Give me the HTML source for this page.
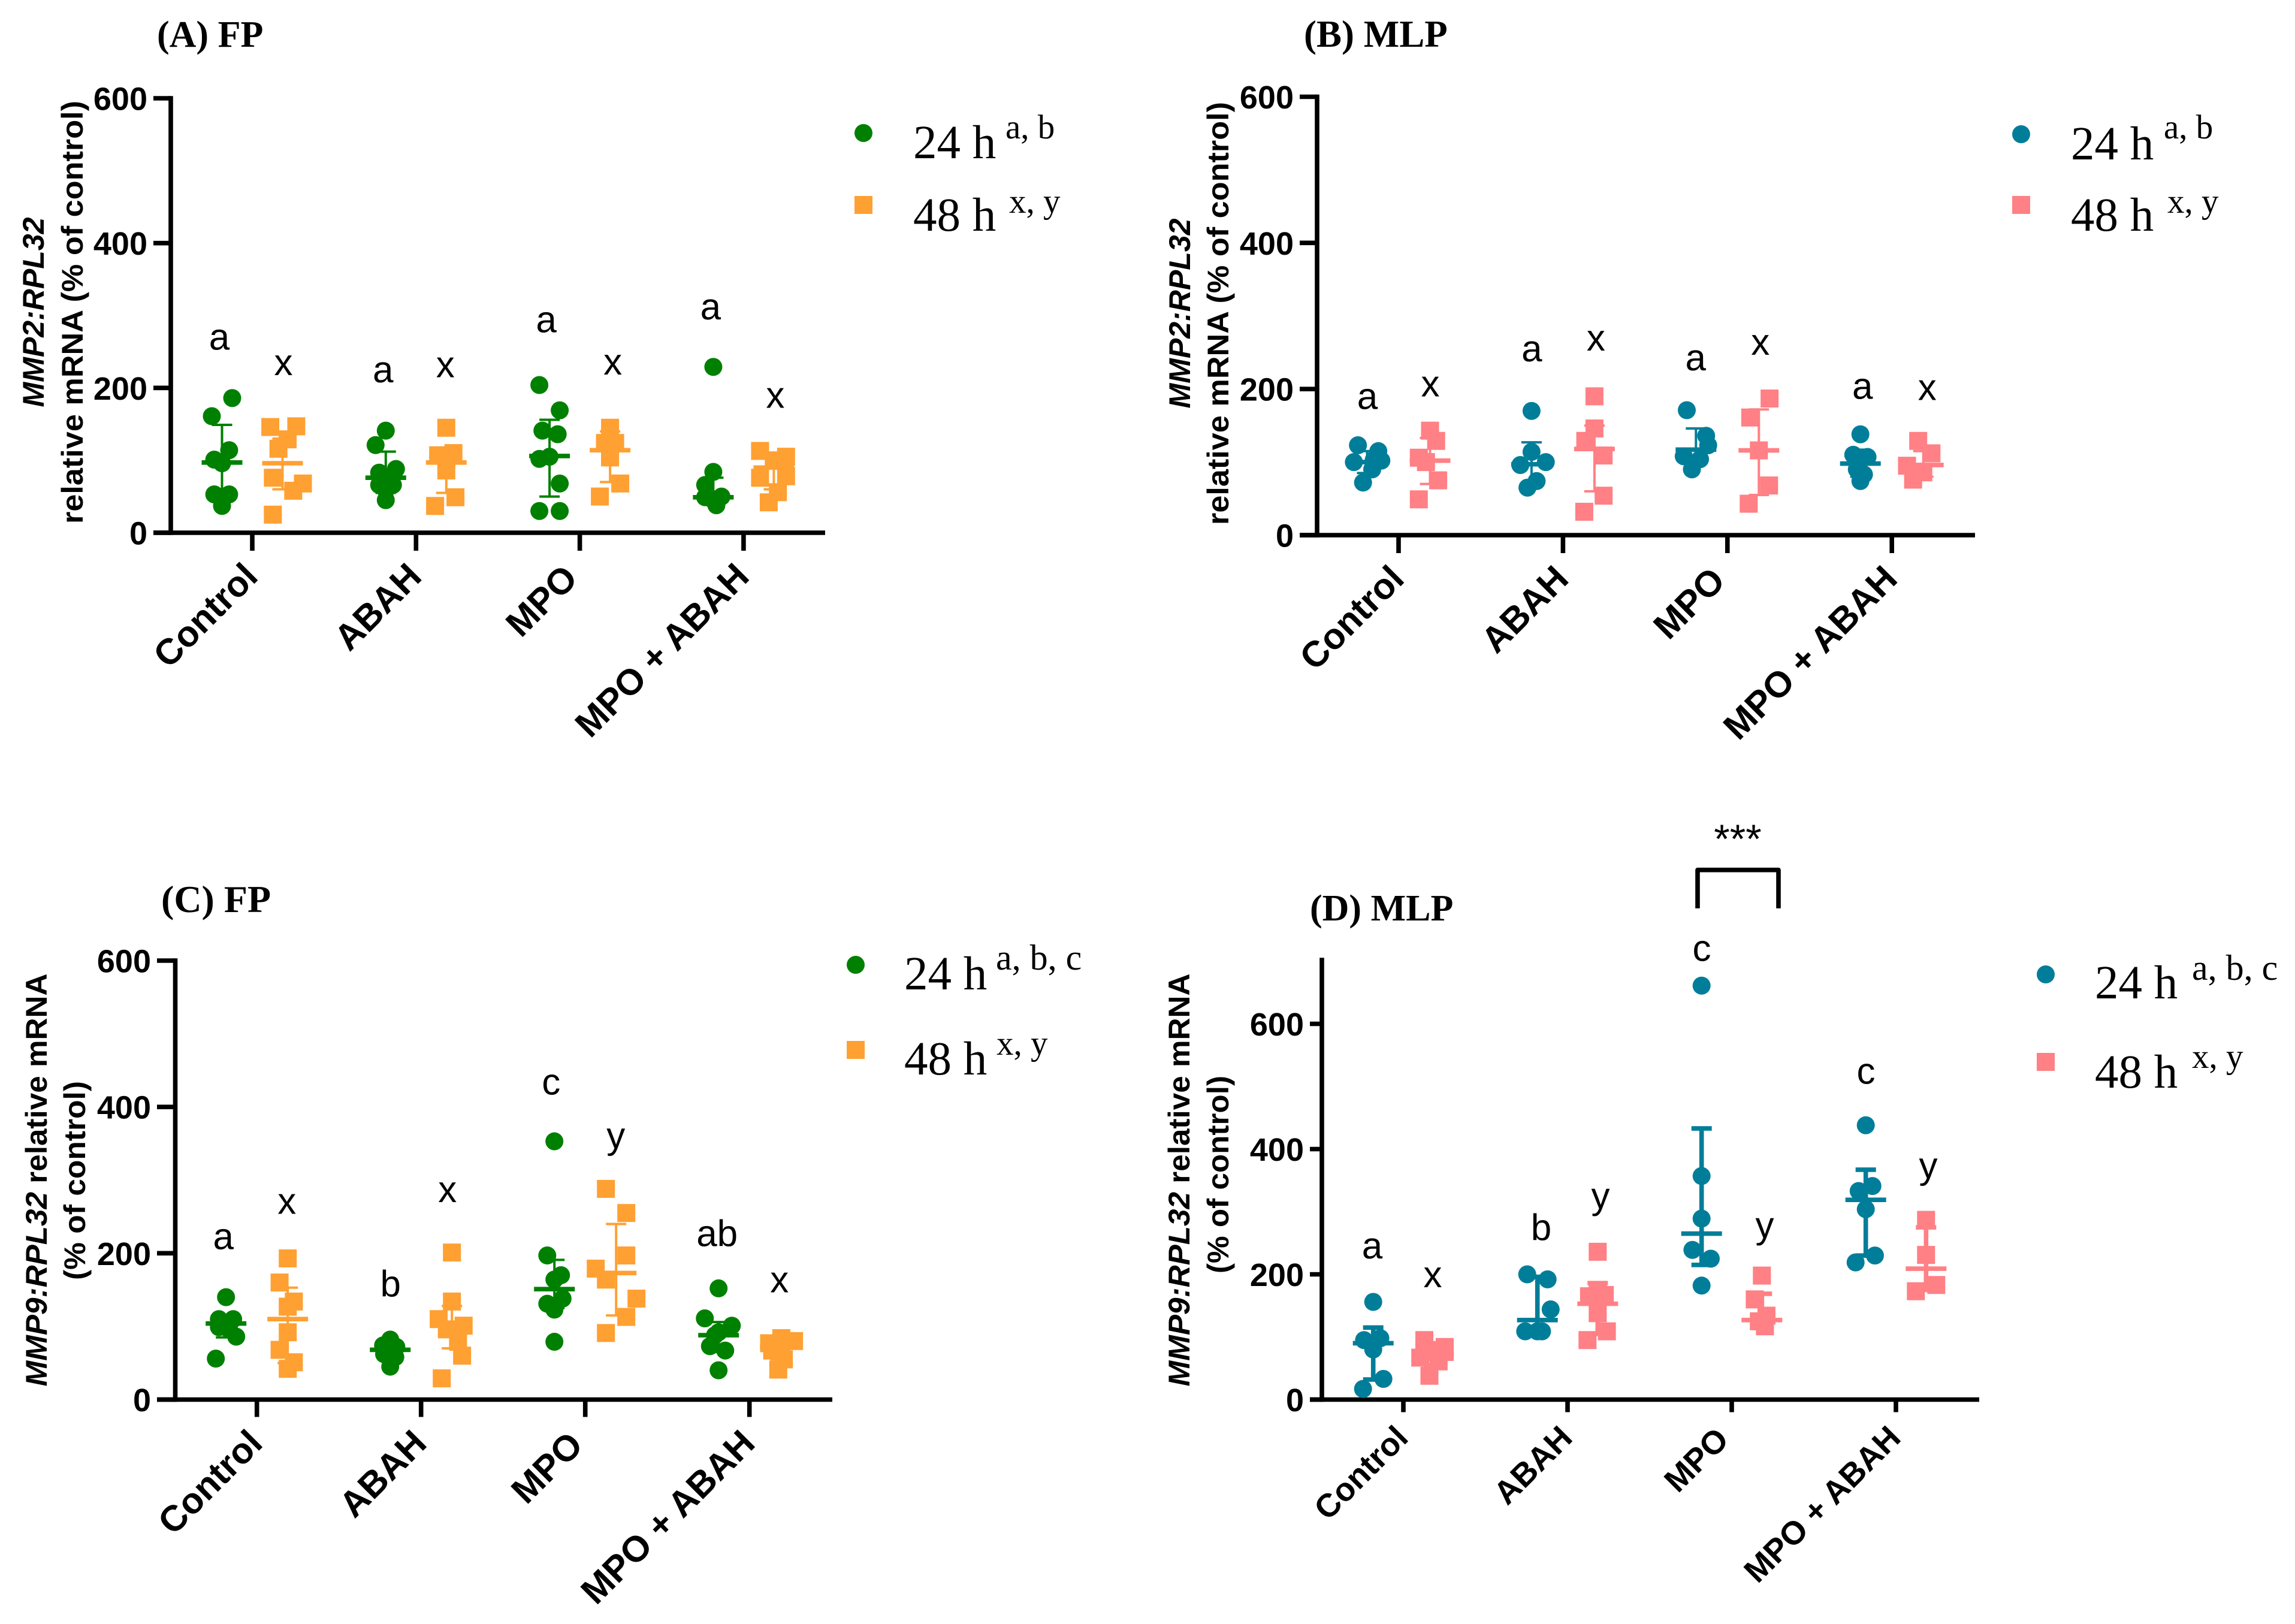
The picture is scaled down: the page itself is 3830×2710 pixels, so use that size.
<!DOCTYPE html>
<html lang="en">
<head>
<meta charset="utf-8">
<title>MMP2 and MMP9 relative mRNA in FP and MLP</title>
<style>
html,body{margin:0;padding:0;background:#fff;width:3830px;height:2710px;overflow:hidden}
svg{display:block;position:absolute;left:0;top:0}
text{fill:#000}
</style>
</head>
<body>
<svg id="fig" xmlns="http://www.w3.org/2000/svg" width="3830" height="2710" viewBox="0 0 3830 2710"></svg>
<script>
const categories = ['Control', 'ABAH', 'MPO', 'MPO + ABAH'];
const seriesNames = ['24 h', '48 h'];

/* Panel A */
const aTicks = [0, 200, 400, 600];
const aValues24 = [[186,161,114,101,96,53,53,37],[141,121,88,83,72,66,66,59,45],[204,169,141,136,105,102,68,30,30],[229,84,66,50,49,45,38]];
const aSlots24 = [[1,-1,.7,-.76,0,-.76,.7,0],[0,-1,1,-.65,0,-.65,.7,0,0],[-1,1,-.7,.8,0,-1,1,-1,1],[0,0,-.8,.8,-.8,0,.3]];
const aMean24 = [97,76,106,49];
const aHigh24 = [149,112,156,76];
const aLow24 = [50,55,50,40];
const aValues48 = [[147,146,129,116,76,68,58,25],[145,110,107,100,86,49,37],[145,124,124,114,104,68,50],[113,105,100,78,76,56,42]];
const aSlots48 = [[1.35,-1.2,.5,-.4,-.95,2,1.05,-.95],[0,.7,-.8,0,0,.9,-1.1],[0,.5,-.5,0,0,1,-1],[-1.35,1.2,0,1.2,-1.35,.4,-.5]];
const aMean48 = [96,97,114,90];
const aHigh48 = [130,115,140,110];
const aLow48 = [60,55,70,60];
const aLetters24 = ['a','a','a','a'];
const aLetterHeights24 = [267,222,291,309];
const aLetters48 = ['x','x','x','x'];
const aLetterHeights48 = [232,229,233,187];

/* Panel B */
const bTicks = [0, 200, 400, 600];
const bValues24 = [[123,115,103,102,100,90,72],[170,114,100,96,74,65],[171,136,123,108,104,90],[138,110,107,100,90,83,74]];
const bSlots24 = [[-.9,1.1,.65,1.4,-1.3,.5,-.4],[0,0,1.4,-1.1,.5,-.4],[-.9,1,1.2,-1.2,.4,-.4],[0,-.7,.7,-.1,-.35,.35,0]];
const bMean24 = [100,97,117,98];
const bHigh24 = [115,127,146,117];
const bLow24 = [85,70,100,80];
const bValues48 = [[143,129,106,100,75,49],[190,146,129,109,54,32],[187,161,116,68,43],[129,112,95,86,76]];
const bSlots48 = [[0,.6,-1.1,-.4,.8,-1.1],[0,0,-.9,.9,.9,-1],[1.05,-.85,0,1,-1],[-.5,.8,-1.6,0,-1]];
const bMean48 = [102,118,116,96];
const bHigh48 = [133,150,172,115];
const bLow48 = [70,60,55,80];
const bLetters24 = ['a','a','a','a'];
const bLetterHeights24 = [187,252,240,201];
const bLetters48 = ['x','x','x','x'];
const bLetterHeights48 = [204,267,261,199];

/* Panel C */
const cTicks = [0, 200, 400, 600];
const cValues24 = [[140,110,110,103,99,96,86,56],[82,74,72,65,62,58,45],[353,197,170,164,138,131,123,79],[152,111,101,92,88,73,67,40]];
const cSlots24 = [[0,-.7,.7,0,-.7,.3,1,-1],[0,-.7,.6,0,-.6,.5,0],[0,-.7,.65,0,.8,-.7,0,0],[0,-1.35,1.3,0,-.35,-.85,.65,0]];
const cMean24 = [104,68,151,88];
const cHigh24 = [110,75,191,106];
const cLow24 = [85,55,125,65];
const cValues48 = [[193,160,134,127,92,68,51,42],[201,134,110,101,96,79,60,29],[288,255,197,179,164,138,113,91],[84,80,77,72,67,55,41]];
const cSlots48 = [[0,-.8,.6,0,0,-.8,.6,0],[0,0,-1.3,1.15,-.5,.6,1,-1],[-1,1,1,-2,-1,2,1,-1],[.1,1.35,-1.1,.1,-.8,.35,-.2]];
const cMean48 = [110,105,173,72];
const cHigh48 = [153,128,240,80];
const cLow48 = [50,70,115,55];
const cLetters24 = ['a','b','c','ab'];
const cLetterHeights24 = [220,155,431,224];
const cLetters48 = ['x','x','y','x'];
const cLetterHeights48 = [268,284,358,161];

/* Panel D */
const dTicks = [0, 200, 400, 600];
const dValues24 = [[156,98,95,80,33,17],[200,192,144,109,109,109],[661,357,289,239,225,182],[438,341,333,304,230,219]];
const dSlots24 = [[0,.7,-.9,0,1,-1],[-1,1,1.3,-1.2,0,.45],[0,0,0,-.9,.9,0],[0,.65,-.7,0,.9,-1]];
const dMean24 = [90,127,265,319];
const dHigh24 = [115,196,433,367];
const dLow24 = [32,109,215,230];
const dValues48 = [[95,84,76,76,67,61,38],[236,175,167,165,138,109,95],[198,160,134,125,117],[287,231,183,173]];
const dSlots48 = [[-.9,1.1,0,1.1,-1.3,.5,-.4],[0,0,.7,-.85,0,.9,-1],[0,-.7,.45,-.3,.3],[0,0,1,-1]];
const dMean48 = [72,153,127,209];
const dHigh48 = [90,186,169,275];
const dLow48 = [55,105,115,175];
const dLetters24 = ['a','b','c','c'];
const dLetterHeights24 = [242,271,717,521];
const dLetters48 = ['x','y','y','y'];
const dLetterHeights48 = [196,322,275,370];

const SVGNS = 'http://www.w3.org/2000/svg';
const SANS = '"Liberation Sans", Arial, sans-serif';
const SERIF = '"Liberation Serif", "Times New Roman", serif';
const AXIS_W = 7.6;
const svg = document.getElementById('fig');

function mk(parent, tag, attrs, txt) {
  const n = document.createElementNS(SVGNS, tag);
  for (const k in attrs) n.setAttribute(k, attrs[k]);
  if (txt !== undefined) n.textContent = txt;
  parent.appendChild(n);
  return n;
}

function drawSeries(g, P, cat, cx, values, slots, mean, high, low, color, shape, label) {
  const y = P.yScale;
  const grp = mk(g, 'g', {});
  
  
  values.forEach(function (v, i) {
    const px = cx + slots[i] * P.slot;
    let el;
    if (shape === 'circle') {
      el = mk(grp, 'circle', {cx: px, cy: y(v), r: P.size / 2, fill: color});
    } else {
      el = mk(grp, 'rect', {x: px - P.size / 2, y: y(v) - P.size / 2, width: P.size, height: P.size, fill: color});
    }
    
    
  });
  const whisker = mk(grp, 'line', {x1: cx, x2: cx, y1: y(high), y2: y(low), stroke: color, 'stroke-width': P.err});
  
  
  const capHigh = mk(grp, 'line', {x1: cx - P.cap, x2: cx + P.cap, y1: y(high), y2: y(high), stroke: color, 'stroke-width': P.err});
  
  
  const capLow = mk(grp, 'line', {x1: cx - P.cap, x2: cx + P.cap, y1: y(low), y2: y(low), stroke: color, 'stroke-width': P.err});
  
  
  const meanLine = mk(grp, 'line', {x1: cx - P.meanW, x2: cx + P.meanW, y1: y(mean), y2: y(mean), stroke: color, 'stroke-width': AXIS_W});
  
  
}

function drawLetter(g, P, x, value, letter) {
  const t = mk(g, 'text', {x: x, y: P.yScale(value), dy: '.28em', 'text-anchor': 'middle', 'font-family': SANS, 'font-size': 62}, letter);
  
  
}

function drawPanel(P) {
  const g = mk(svg, 'g', {});
  
  
  P.yScale = function (v) { return P.y0 - v * P.pxPerUnit; };
  P.slot = 17; P.size = 30; P.cap = 17; P.meanW = 34;

  P.ticks.forEach(function (v) {
    const yy = P.yScale(v);
    const tick = mk(g, 'line', {x1: P.axisLeft, x2: P.axisX, y1: yy, y2: yy, stroke: '#000', 'stroke-width': AXIS_W});
    
    
    const lab = mk(g, 'text', {x: P.axisLeft - 10, y: yy, dy: '.36em', 'text-anchor': 'end', 'font-family': SANS, 'font-weight': 'bold', 'font-size': 54}, v);
    
    
  });
  const yAxis = mk(g, 'line', {x1: P.axisX, x2: P.axisX, y1: P.top - AXIS_W / 2, y2: P.y0 + AXIS_W / 2, stroke: '#000', 'stroke-width': AXIS_W});
  
  
  const xAxis = mk(g, 'line', {x1: P.axisLeft, x2: P.axisRight, y1: P.y0, y2: P.y0, stroke: '#000', 'stroke-width': AXIS_W});
  
  

  categories.forEach(function (c, i) {
    const tx = P.tick0 + i * P.tickStep;
    const tick = mk(g, 'line', {x1: tx, x2: tx, y1: P.y0, y2: P.y0 + P.tickLen, stroke: '#000', 'stroke-width': AXIS_W});
    
    
    const shortLabelShift = c === 'MPO' ? 13 : 0;
    const lx = tx - 3 - shortLabelShift, ly = P.y0 + P.catDy + (c === 'MPO' ? 3 : 0);
    const lab = mk(g, 'text', {x: lx, y: ly, dy: '.36em', 'text-anchor': 'end', 'font-family': SANS, 'font-weight': 'bold', 'font-size': P.catFont, transform: 'rotate(-45 ' + lx + ' ' + ly + ')'}, c);
    
    

    drawSeries(g, P, c, tx - P.off, P.v24[i], P.s24[i], P.m24[i], P.h24[i], P.l24[i], P.c24, 'circle', '24h');
    drawSeries(g, P, c, tx + P.off, P.v48[i], P.s48[i], P.m48[i], P.h48[i], P.l48[i], P.c48, 'square', '48h');
    drawLetter(g, P, tx + P.dx24[i], P.lh24[i], P.lt24[i]);
    drawLetter(g, P, tx + P.dx48[i], P.lh48[i], P.lt48[i]);
  });

  const title = mk(g, 'text', {x: P.titleX, y: P.titleY, 'font-family': SERIF, 'font-weight': 'bold', 'font-size': P.titleFont}, P.title);
  
  

  const yt = mk(g, 'text', {transform: 'translate(' + P.yt1[0] + ' ' + P.yt1[1] + ') rotate(-90)', dy: '.36em', 'text-anchor': 'middle', 'font-family': SANS, 'font-weight': 'bold', 'font-size': 50, textLength: P.ytLen1, lengthAdjust: 'spacingAndGlyphs'});
  
  
  mk(yt, 'tspan', {'font-style': 'italic'}, P.ytGene);
  if (P.ytRest1) mk(yt, 'tspan', {}, P.ytRest1);
  const yt2 = mk(g, 'text', {transform: 'translate(' + P.yt2[0] + ' ' + P.yt2[1] + ') rotate(-90)', dy: '.36em', 'text-anchor': 'middle', 'font-family': SANS, 'font-weight': 'bold', 'font-size': 50, textLength: P.ytLen2, lengthAdjust: 'spacingAndGlyphs'}, P.ytLine2);
  
  

  const L = P.legend;
  const lg = mk(g, 'g', {});
  
  
  const m1 = mk(lg, 'circle', {cx: L.mx, cy: L.my1, r: 15, fill: P.c24});
  
  
  const m2 = mk(lg, 'rect', {x: L.mx - 15, y: L.my2 - 15, width: 30, height: 30, fill: P.c48});
  
  
  const t1 = mk(lg, 'text', {x: L.tx, y: L.by1, 'font-family': SERIF, 'font-size': 79}, seriesNames[0]);
  
  
  const t2 = mk(lg, 'text', {x: L.tx, y: L.by2, 'font-family': SERIF, 'font-size': 79}, seriesNames[1]);
  
  
  const s1 = mk(lg, 'text', {x: L.sx1, y: L.sy1, 'font-family': SERIF, 'font-size': L.supFont}, L.sup1);
  
  
  const s2 = mk(lg, 'text', {x: L.sx2, y: L.sy2, 'font-family': SERIF, 'font-size': 57}, L.sup2);
  
  
}

const GREEN = '#008000', ORANGE = '#ffa033', TEAL = '#007e99', PINK = '#ff8085';

drawPanel({id:'a', title:'(A) FP', titleX:262, titleY:78, titleFont:62, ticks:aTicks, y0:889, top:164, pxPerUnit:(889-164)/600,
  axisX:285, axisLeft:256, axisRight:1377, tick0:421, tickStep:273.3, tickLen:30, catDy:61, off:50.5, err:4, catFont:60.5,
  v24:aValues24, s24:aSlots24, m24:aMean24, h24:aHigh24, l24:aLow24, v48:aValues48, s48:aSlots48, m48:aMean48, h48:aHigh48, l48:aLow48,
  c24:GREEN, c48:ORANGE, lt24:aLetters24, lh24:aLetterHeights24, lt48:aLetters48, lh48:aLetterHeights48,
  dx24:[-55,-55,-56,-55], dx48:[52,49,55,53],
  ytGene:'MMP2:RPL32', ytRest1:'', ytLine2:'relative mRNA (% of control)', ytLen1:317, ytLen2:706, yt1:[55,521], yt2:[120,521],
  legend:{mx:1441,my1:222,my2:342,tx:1524,by1:264,by2:385,sx1:1678,sy1:231,sx2:1684,sy2:355,sup1:'a, b',sup2:'x, y',supFont:57}});

drawPanel({id:'b', title:'(B) MLP', titleX:2176, titleY:78, titleFont:63, ticks:bTicks, y0:893, top:161.5, pxPerUnit:(893-161.5)/600,
  axisX:2198, axisLeft:2169, axisRight:3296, tick0:2334, tickStep:274.4, tickLen:30, catDy:61, off:52.5, err:4, catFont:60.5,
  v24:bValues24, s24:bSlots24, m24:bMean24, h24:bHigh24, l24:bLow24, v48:bValues48, s48:bSlots48, m48:bMean48, h48:bHigh48, l48:bLow48,
  c24:TEAL, c48:PINK, lt24:bLetters24, lh24:bLetterHeights24, lt48:bLetters48, lh48:bLetterHeights48,
  dx24:[-52,-52,-53,-49], dx48:[53,55,55,59],
  ytGene:'MMP2:RPL32', ytRest1:'', ytLine2:'relative mRNA (% of control)', ytLen1:317, ytLen2:706, yt1:[1968,523], yt2:[2032,523],
  legend:{mx:3373,my1:224,my2:342,tx:3456,by1:266,by2:385,sx1:3611,sy1:231,sx2:3617,sy2:355,sup1:'a, b',sup2:'x, y',supFont:57}});

drawPanel({id:'c', title:'(C) FP', titleX:269, titleY:1522, titleFont:64, ticks:cTicks, y0:2335.5, top:1603, pxPerUnit:(2335.5-1603)/600,
  axisX:292.5, axisLeft:262, axisRight:1389, tick0:428.7, tickStep:274, tickLen:29, catDy:61, off:51.5, err:4, catFont:60.5,
  v24:cValues24, s24:cSlots24, m24:cMean24, h24:cHigh24, l24:cLow24, v48:cValues48, s48:cSlots48, m48:cMean48, h48:cHigh48, l48:cLow48,
  c24:GREEN, c48:ORANGE, lt24:cLetters24, lh24:cLetterHeights24, lt48:cLetters48, lh48:cLetterHeights48,
  dx24:[-56,-51,-57,-54], dx48:[50,44,51,50],
  ytGene:'MMP9:RPL32', ytRest1:' relative mRNA', ytLine2:'(% of control)', ytLen1:689, ytLen2:332, yt1:[60,1969], yt2:[124,1970],
  legend:{mx:1428,my1:1610,my2:1752,tx:1509,by1:1651,by2:1793,sx1:1662,sy1:1618,sx2:1663,sy2:1760,sup1:'a, b, c',sup2:'x, y',supFont:60}});

drawPanel({id:'d', title:'(D) MLP', titleX:2186, titleY:1536, titleFont:62, ticks:dTicks, y0:2335.5, top:1602, pxPerUnit:209/200,
  axisX:2206, axisLeft:2186, axisRight:3303, tick0:2342, tickStep:274, tickLen:21, catDy:53, off:50.3, err:7.6, catFont:54.5,
  v24:dValues24, s24:dSlots24, m24:dMean24, h24:dHigh24, l24:dLow24, v48:dValues48, s48:dSlots48, m48:dMean48, h48:dHigh48, l48:dLow48,
  c24:TEAL, c48:PINK, lt24:dLetters24, lh24:dLetterHeights24, lt48:dLetters48, lh48:dLetterHeights48,
  dx24:[-52,-44,-50,-50], dx48:[49,55,55,54],
  ytGene:'MMP9:RPL32', ytRest1:' relative mRNA', ytLine2:'(% of control)', ytLen1:689, ytLen2:330, yt1:[1967,1969], yt2:[2032,1960],
  legend:{mx:3414,my1:1626,my2:1772,tx:3496,by1:1666,by2:1815,sx1:3658,sy1:1635,sx2:3658,sy2:1782,sup1:'a, b, c',sup2:'x, y',supFont:60}});

const bracket = mk(svg, 'path', {d: 'M2833 1515.7V1451.7H2968V1515.7', fill: 'none', stroke: '#000', 'stroke-width': AXIS_W, 'stroke-linejoin': 'round'});


const stars = mk(svg, 'text', {x: 2900, y: 1423, 'text-anchor': 'middle', 'font-family': SANS, 'font-size': 68}, '***');


</script>
</body>
</html>
